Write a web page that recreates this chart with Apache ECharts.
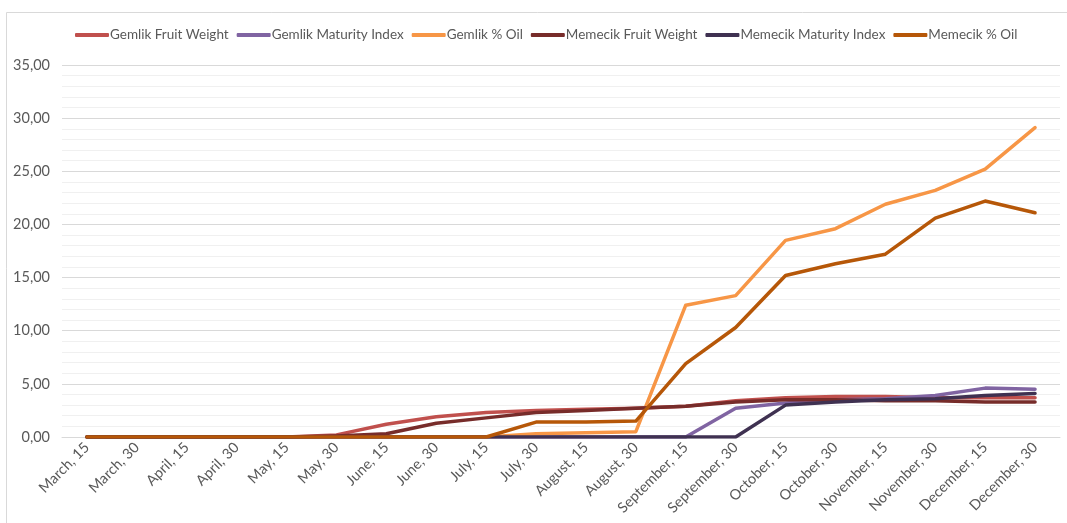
<!DOCTYPE html>
<html>
<head>
<meta charset="utf-8">
<script src="https://cdn.jsdelivr.net/npm/echarts@6/dist/echarts.min.js"></script>
<style>
html,body{margin:0;padding:0;background:#fff;}
#c{width:1067px;height:523px;}
</style>
</head>
<body>
<div id="c"></div>
<script>
const categories = ["March, 15","March, 30","April, 15","April, 30","May, 15","May, 30","June, 15","June, 30","July, 15","July, 30","August, 15","August, 30","September, 15","September, 30","October, 15","October, 30","November, 15","November, 30","December, 15","December, 30"];
const yTicks = [0,5,10,15,20,25,30,35];

const gemlikFruitWeight   = [0,0,0,0,0,0.2,1.2,1.9,2.3,2.5,2.6,2.7,2.9,3.4,3.7,3.8,3.8,3.7,3.7,3.7];
const gemlikMaturityIndex = [0,0,0,0,0,0,0,0,0,0,0,0,0,2.7,3.2,3.5,3.6,3.9,4.6,4.5];
const gemlikOil           = [0,0,0,0,0,0,0,0,0,0.3,0.4,0.5,12.4,13.3,18.5,19.6,21.9,23.2,25.2,29.1];
const memecikFruitWeight  = [0,0,0,0,0,0.1,0.3,1.3,1.8,2.3,2.5,2.7,2.9,3.3,3.5,3.5,3.4,3.4,3.3,3.3];
const memecikMaturityIndex= [0,0,0,0,0,0,0,0,0,0,0,0,0,0,3.0,3.3,3.5,3.6,3.9,4.1];
const memecikOil          = [0,0,0,0,0,0,0,0,0,1.4,1.4,1.5,6.9,10.3,15.2,16.3,17.2,20.6,22.2,21.1];

const seriesNames = ["Gemlik Fruit Weight","Gemlik Maturity Index","Gemlik % Oil","Memecik Fruit Weight","Memecik Maturity Index","Memecik % Oil"];
const seriesData = [gemlikFruitWeight,gemlikMaturityIndex,gemlikOil,memecikFruitWeight,memecikMaturityIndex,memecikOil];
const colors = ["#C0504D","#8064A2","#F79646","#772C2A","#3F3151","#B65708"];

const chart = echarts.init(document.getElementById('c'), null, {renderer:'canvas'});
const font = "Lato, 'Liberation Sans', Arial, sans-serif";

chart.setOption({
  animation:false,
  backgroundColor:'#fff',
  color: colors,
  graphic:[{type:'rect', shape:{x:6.5,y:12.5,width:1100,height:600}, style:{fill:'none',stroke:'#d9d9d9',lineWidth:1}, silent:true}],
  legend:{
    top: 23,
    left: 70,
    width: 1000,
    orient:'horizontal',
    itemWidth: 34,
    itemHeight: 4,
    itemGap: 8,
    icon: 'roundRect',
    textStyle:{color:'#595959', fontSize:13.5, fontFamily:font, padding:[0,0,0,-4]},
    data: seriesNames
  },
  grid:{left:62, right:7, top:65, bottom:86, containLabel:false},
  xAxis:{
    type:'category',
    data: categories,
    boundaryGap:true,
    axisLine:{show:true, lineStyle:{color:'#d9d9d9', width:1}},
    axisTick:{show:false},
    axisLabel:{rotate:45, color:'#595959', fontSize:14.5, fontFamily:font, margin:8, interval:0},
    splitLine:{show:false}
  },
  yAxis:{
    type:'value',
    min:0, max:35, interval:5,
    axisLine:{show:false},
    axisTick:{show:false},
    axisLabel:{color:'#595959', fontSize:14.5, fontFamily:font, margin:12,
      formatter: v => v.toFixed(2).replace('.', ',')},
    splitLine:{show:true, lineStyle:{color:'#d9d9d9', width:1}},
    minorTick:{show:false, splitNumber:5},
    minorSplitLine:{show:true, lineStyle:{color:'#f0f0f0', width:1}}
  },
  series: seriesNames.map((n,i)=>({
    name:n, type:'line', data: seriesData[i],
    symbol:'none', smooth:false,
    lineStyle:{width:3.5, color:colors[i], cap:'round', join:'round'},
    itemStyle:{color:colors[i]},
    z: 2+i
  }))
});
</script>
</body>
</html>
